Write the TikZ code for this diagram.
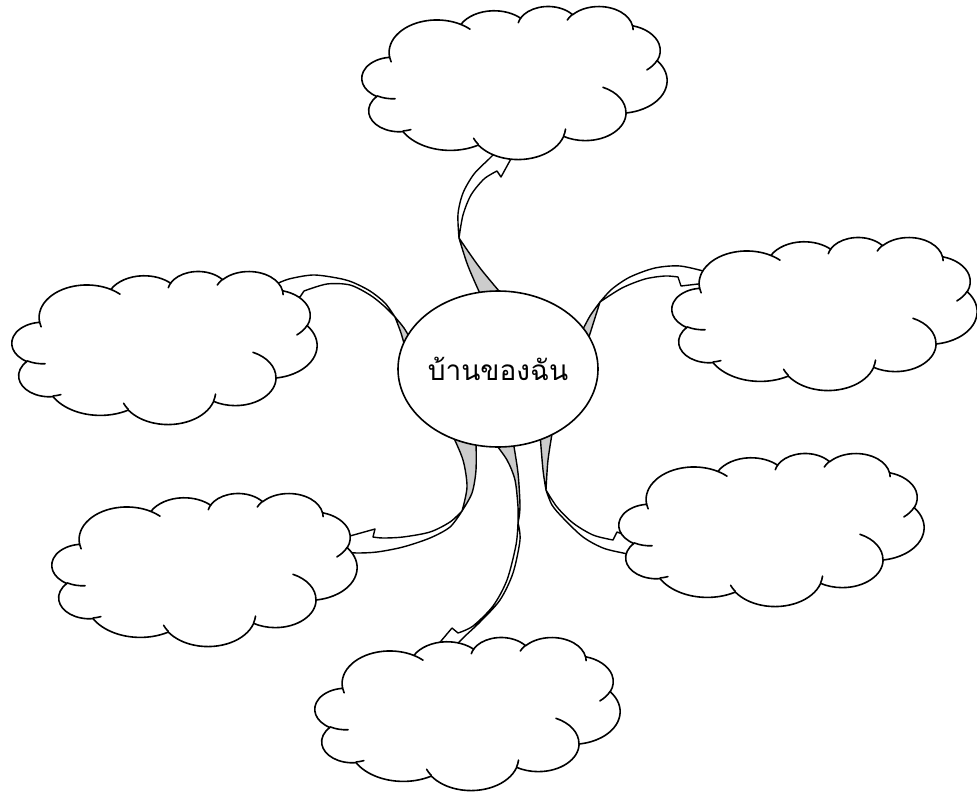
\documentclass[tikz,border=0pt]{standalone}
\usepackage{fontspec}
\newfontfamily\thaifont[Script=Thai]{Loma}
\usetikzlibrary{shapes.geometric}

\def\clW{305}
\def\clH{153}
\newcommand\clP[2]{\pgfpointxy{\clX+#1*\clW}{\clY+#2*\clH}}
% elliptical arc of the Office cloud: fw fh start sweep (visual angles, y down)
\newcommand\clArc[4]{%
  \pgfmathsetmacro\clA{atan2(#1*sin(#3),#2*cos(#3))}%
  \pgfmathsetmacro\clB{atan2(#1*sin(#3+#4),#2*cos(#3+#4))}%
  \pgfmathsetmacro\clD{\clB-(\clA)}%
  \pgfmathsetmacro\clD{\clD+360*round((#4-(\clD))/360)}%
  \pgfmathsetmacro\clE{\clA+(\clD)}%
  \pgfmathsetmacro\clRx{#1*\clW}%
  \pgfmathsetmacro\clRy{#2*\clH}%
  \pgfpatharcaxes{\clA}{\clE}{\pgfpointxy{\clRx}{0}}{\pgfpointxy{0}{\clRy}}%
}
\newcommand\drawCloud[2]{%
  \def\clX{#1}\def\clY{#2}%
  \begin{pgfscope}
  \pgfsetlinewidth{1.6pt}\pgfsetroundjoin\pgfsetroundcap
  \pgfsetfillcolor{white}\pgfsetstrokecolor{black}
  \pgfpathmoveto{\clP{0.090278}{0.332639}}
  \clArc{0.156319}{0.212731}{-190.48748}{123.78053}
  \clArc{0.123449}{0.168218}{-144.10238}{89.94523}
  \clArc{0.101042}{0.137616}{-145.80792}{99.72302}
  \clArc{0.112431}{0.152662}{-130.98607}{117.24173}
  \clArc{0.123449}{0.168356}{-78.70888}{109.02692}
  \clArc{0.156829}{0.213426}{-46.26725}{130.269}
  \clArc{0.133912}{0.182106}{0.62502}{114.03333}
  \clArc{0.156296}{0.213310}{22.4516}{115.17255}
  \clArc{0.178704}{0.244051}{66.24263}{75.71102}
  \clArc{0.100926}{0.136991}{-274.94208}{146.73557}
  \clArc{0.100579}{0.137616}{-246.8285}{152.51885}
  \pgfpathclose
  \pgfusepath{fill,stroke}
  \pgfpathmoveto{\clP{0.108634}{0.605949}}\clArc{0.100579}{0.137616}{86.742}{26.4295}
  \pgfpathmoveto{\clP{0.160370}{0.807847}}\clArc{0.100926}{0.136991}{73.61047}{11.44747}
  \pgfpathmoveto{\clP{0.381435}{0.904861}}\clArc{0.156296}{0.213310}{137.62415}{14.0811}
  \pgfpathmoveto{\clP{0.667292}{0.804421}}\clArc{0.156296}{0.213310}{6.45327}{15.99835}
  \pgfpathmoveto{\clP{0.790023}{0.531343}}\clArc{0.133912}{0.182106}{-70.29235}{70.91737}
  \pgfpathmoveto{\clP{0.967546}{0.355417}}\clArc{0.123449}{0.168356}{30.31803}{27.7515}
  \pgfpathmoveto{\clP{0.887130}{0.125602}}\clArc{0.112431}{0.152662}{-13.74433}{14.8589}
  \pgfpathmoveto{\clP{0.673102}{0.091481}}\clArc{0.112431}{0.152662}{-149.18145}{18.19537}
  \pgfpathmoveto{\clP{0.512523}{0.109259}}\clArc{0.101042}{0.137616}{-163.49427}{17.68635}
  \pgfpathmoveto{\clP{0.324074}{0.120185}}\clArc{0.156319}{0.212731}{-66.70695}{12.31935}
  \pgfpathmoveto{\clP{0.095532}{0.365486}}\clArc{0.156319}{0.212731}{157.65435}{11.85817}
  \pgfusepath{stroke}
  \end{pgfscope}}

\begin{document}
\begin{tikzpicture}[x=1pt,y=-1pt,
  edgeline/.style={draw=black, line width=1.4pt, line join=round},
  backface/.style={edgeline, fill=black!20},
  frontface/.style={edgeline, fill=white},
  hub/.style={draw=black, line width=1.6pt, fill=white, ellipse, inner sep=0pt,
    minimum width=200pt, minimum height=156pt, font=\thaifont\fontsize{28}{33}\selectfont}]
\useasboundingbox[fill=white] (0,0) rectangle (977,792);

% top arrow
\path[backface] plot[smooth] coordinates {(482,298) (468,266) (459,238)} -- plot[smooth] coordinates {(459,238) (480,268) (505,298)} -- cycle;
\path[frontface] plot[smooth] coordinates {(459,238) (458,214) (463,193) (474,174) (489,159) (497,151)} -- (518,146) -- (501,177) -- plot[smooth] coordinates {(497,171) (484,179) (471,195) (463,215) (459,238)} -- cycle;
% top-right arrow
\path[backface] plot[smooth] coordinates {(581,333) (590,316) (600,302)} -- plot[smooth] coordinates {(600,302) (594,321) (588,340)} -- cycle;
\path[frontface] plot[smooth] coordinates {(600,302) (612,289) (630,277) (655,268) (680,266) (707,272)} -- (724,281) -- (681,286) -- plot[smooth] coordinates {(678,277) (665,276) (645,279) (622,288) (600,302)} -- cycle;
% top-left arrow
\path[backface] plot[smooth] coordinates {(411,340) (404,328) (395,317)} -- plot[smooth] coordinates {(395,317) (401,333) (405,347)} -- cycle;
\path[frontface] plot[smooth] coordinates {(395,317) (385,303) (370,291) (352,282) (337,278) (313,275) (289,279) (274,285)} -- (262,291) -- (300,297) -- plot[smooth] coordinates {(304,291) (327,284) (350,285) (370,295) (384,306) (395,317)} -- cycle;
% lower-left arrow
\path[backface] plot[smooth] coordinates {(476,440) (476,470) (472,493) (462,511)} -- plot[smooth] coordinates {(462,511) (467,487) (463,460) (452,434)} -- cycle;
\path[frontface] plot[smooth] coordinates {(462,511) (450,527) (430,538) (403,547) (377,552) (357,553) (344,552)} -- (332,541) -- (375,529) -- plot[smooth] coordinates {(373,537) (383,538) (403,537) (430,532) (450,522) (462,511)} -- cycle;
% bottom arrow
\path[backface] plot[smooth] coordinates {(513,441) (518,473) (520,507) (518,523)} -- plot[smooth] coordinates {(518,523) (518,507) (515,480) (507,460) (494,442)} -- cycle;
\path[frontface] plot[smooth] coordinates {(518,523) (520,540) (513,573) (500,600) (480,622) (463,638) (452,650)} -- (425,660) -- (452,628) -- plot[smooth] coordinates {(458,633) (473,626) (493,606) (507,580) (516,545) (518,523)} -- cycle;
% lower-right arrow
\path[backface] plot[smooth] coordinates {(540,434) (543,470) (546,490)} -- plot[smooth] coordinates {(546,490) (548,460) (553,428)} -- cycle;
\path[frontface] plot[smooth] coordinates {(546,490) (552,505) (563,518) (583,537) (603,548) (623,553) (634,555)} -- (651,545) -- (617,532) -- plot[smooth] coordinates {(613,540) (593,535) (573,523) (557,507) (546,490)} -- cycle;

\node[hub] (home) at (498,369) {บ้านของฉัน};

\drawCloud{362}{6}
\drawCloud{672}{237}
\drawCloud{12}{271}
\drawCloud{619}{453}
\drawCloud{52}{493}
\drawCloud{315}{637}
\end{tikzpicture}
\end{document}
